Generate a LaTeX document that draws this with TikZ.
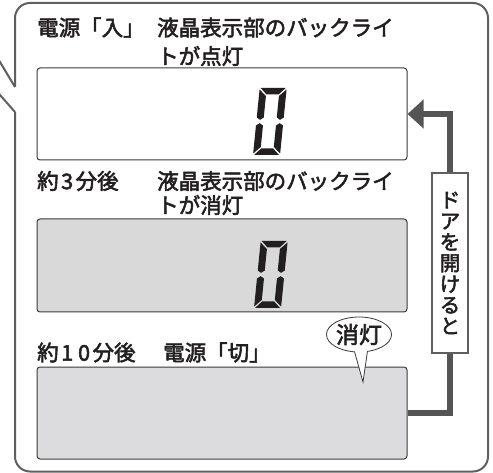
\documentclass[tikz,border=0pt]{standalone}
\usepackage{fontspec}
\newfontfamily\jp{Noto Sans CJK JP}[FakeBold=2.5]
\usetikzlibrary{arrows.meta,shapes.geometric,calc}
\definecolor{txt}{HTML}{231F20}
\definecolor{framec}{HTML}{5F5F5F}
\definecolor{arrowc}{HTML}{555555}
\definecolor{panelgray}{HTML}{D9D9D9}
\definecolor{panelgraylt}{HTML}{DCDCDE}
\definecolor{panelline}{HTML}{3A3A3A}
\tikzset{
  lbl/.style={anchor=west, inner sep=0pt, text=txt, font=\jp\fontsize{21.5}{24}\selectfont},
  panel/.style={draw=panelline, line width=1pt, rounded corners=3pt, minimum width=370pt, minimum height=92pt, inner sep=0pt},
  framel/.style={draw=framec, line width=2pt},
  flow/.style={draw=arrowc, line width=6pt},
  seg/.style={fill=txt},
}
\newcommand\dg[1]{\hspace{2.5pt}#1\hspace{2.5pt}}
\newcommand\lcdzero[1]{%
  \begin{scope}[shift={#1}, y=1pt, xslant=0.1]
    \fill[seg] (1,67) -- (26,67) -- (19.5,60.5) -- (7.5,60.5) -- cycle;
    \fill[seg] (0,65.5) -- (7,59) -- (7,37.5) -- (3.5,35.2) -- (0,37.5) -- cycle;
    \fill[seg] (27,65.5) -- (20,59) -- (20,37.5) -- (23.5,35.2) -- (27,37.5) -- cycle;
    \fill[seg] (0,1.5) -- (7,8) -- (7,29.5) -- (3.5,31.8) -- (0,29.5) -- cycle;
    \fill[seg] (27,1.5) -- (20,8) -- (20,29.5) -- (23.5,31.8) -- (27,29.5) -- cycle;
    \fill[seg] (1,0) -- (26,0) -- (19.5,6.5) -- (7.5,6.5) -- cycle;
  \end{scope}}
\begin{document}
\begin{tikzpicture}[x=1pt,y=-1pt]
\useasboundingbox (0,0) rectangle (493,473);
\clip (0,0) rectangle (493,473);
% outer callout frame
\draw[framel, rounded corners=15pt] (15,112) -- (15,471.5) -- (488,471.5) -- (488,3) -- (15,3) -- (15,87);
\draw[framel] (15,87) -- (-3,57);
\draw[framel] (15,112) -- (-3,91.6);
% panels
\node[panel, fill=white] (p1) at (222,114) {};
\node[panel, fill=panelgray, minimum height=93pt] (p2) at (222,265.5) {};
\node[panel, fill=panelgraylt] (p3) at (222,413) {};
% digits
\lcdzero{(253,155)}
\lcdzero{(254,308)}
% labels
\node[lbl] (t1a) at (37,27.5) {電源「入」};
\node[lbl] (t1b) at (157,27.5) {液晶表示部のバックライ};
\node[lbl] (t1c) at (157,56) {トが点灯};
\node[lbl] (t2a) at (37,181) {約\dg{3}分後};
\node[lbl] (t2b) at (157,181) {液晶表示部のバックライ};
\node[lbl] (t2c) at (157,205) {トが消灯};
\node[lbl] (t3a) at (37,352.5) {約\dg{1}\dg{0}分後};
\node[lbl] (t3b) at (163,352.5) {電源「切」};
% door label and arrow
\node[draw=framec, line width=2pt, fill=white, minimum width=36pt, minimum height=180pt, inner sep=0pt, align=center, text=txt, font=\jp\fontsize{20.5}{21}\selectfont] (door) at (450,263) {ド\\ア\\を\\開\\け\\る\\と};
\draw[flow] (p3.east) -| (door.south);
\draw[flow, -{Triangle[length=16pt,width=28pt]}] (door.north) |- (p1.east);
% speech bubble
\coordinate (tip) at (363,382);
\node[ellipse, draw=panelline, line width=0.8pt, fill=white, minimum width=62pt, minimum height=35pt, inner sep=0pt, text=txt, font=\jp\fontsize{23}{25}\selectfont] (bub) at (359,334.5) {消灯};
\fill[white] (354,349) -- (tip) -- (368,348) -- cycle;
\draw[panelline, line width=0.8pt] (354.5,351.6) -- (tip) -- (367.5,351.1);
\end{tikzpicture}
\end{document}
